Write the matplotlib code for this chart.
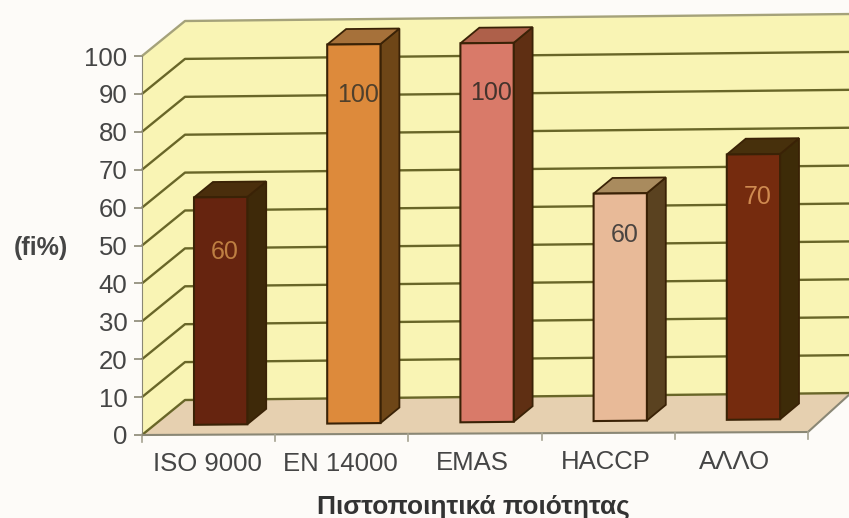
import numpy as np
import matplotlib
matplotlib.use("Agg")
import matplotlib.pyplot as plt
from matplotlib.patches import Polygon

categories = ["ISO 9000", "EN 14000", "EMAS", "HACCP", "ΑΛΛΟ"]
values = [60, 100, 100, 60, 70]
y_ticks = list(range(0, 101, 10))

front_colors = ["#66240F", "#DD8A3B", "#D97A69", "#E8BA98", "#752B0E"]
side_colors = ["#3E2909", "#6E4617", "#5F2F13", "#5A4220", "#3D2B08"]
top_colors = ["#4A2E0C", "#A6713A", "#AE604A", "#A98B5E", "#47300C"]
label_colors = ["#BE7F42", "#4F402C", "#43332C", "#4A4440", "#CF8A50"]
label_drop = [14.5, 13.3, 13.3, 11, 11.3]

W, H = 849, 518
plt.rcParams["font.family"] = ["Liberation Sans", "DejaVu Sans"]

fig = plt.figure(figsize=(W / 100, H / 100), dpi=100, facecolor="#FDFBF8")
LEFT, RIGHT, TOP, BOTTOM = 142, 808, 56, 435
ax = fig.add_axes([LEFT / W, 1 - BOTTOM / H, (RIGHT - LEFT) / W, (BOTTOM - TOP) / H])
ax.set_xlim(-0.5, 4.5)
ax.set_ylim(0, 100)
ax.patch.set_alpha(0)

px_x = (RIGHT - LEFT) / 5
px_y = (BOTTOM - TOP) / 100
DEPTH_X = 43 / px_x
DEPTH_Y = 35 / px_y


def project(x, v, d=0.0):
    """Map category, value and depth (0 front, 1 back wall) to axes data units."""
    rise = np.interp(d, [0, 0.28, 1], [0.0045, 0.0094, 0.0105])
    tilt = rise * (x + 0.5) * px_x / px_y
    return x + d * DEPTH_X, v + d * DEPTH_Y + tilt


def face(points, **kw):
    verts = [project(*p) for p in points]
    ax.add_patch(Polygon(verts, closed=True, clip_on=False, **kw))


WALL = "#F9F4B4"
GRID = "#696628"
x0, x1 = -0.5, 4.5

# Chart box: floor, back wall and left wall
face([(x0, 0, 0), (x1, 0, 0), (x1, 0, 1), (x0, 0, 1)], fc="#E6D0B0", ec="none", zorder=1)
face([(x0, 0, 1), (x1, 0, 1), (x1, 100, 1), (x0, 100, 1)], fc=WALL, ec="none", zorder=1)
face([(x0, 0, 0), (x0, 0, 1), (x0, 100, 1), (x0, 100, 0)], fc=WALL, ec="none", zorder=1)

for t in y_ticks:
    col = "#A5A27A" if t == 100 else GRID
    xs, ys = zip(*[project(x0, t, 0), project(x0, t, 1), project(x1, t, 1)])
    ax.plot(xs, ys, color=col, lw=1.7, clip_on=False, zorder=2, solid_capstyle="butt")

# Front edge of the floor and its right-hand side
xs, ys = zip(*[project(x0, 0, 0), project(x1, 0, 0), project(x1, 0, 1)])
ax.plot(xs, ys, color="#8A8775", lw=1.5, clip_on=False, zorder=3)

# Category separator ticks along the front edge
for b in np.arange(x0, x1 + 0.01, 1.0):
    xs, ys = zip(*[project(b, 0, 0), project(b, -1.8, 0)])
    ax.plot(xs, ys, color="#A5A290", lw=1.2, clip_on=False, zorder=3)

# Oblique bars
D0, D1 = 0.28, 0.72
HALF = 0.2
EDGE = "#3A2206"
for i, v in enumerate(values):
    l, r = i - HALF, i + HALF
    face([(r, 0, D0), (r, 0, D1), (r, v, D1), (r, v, D0)],
         fc=side_colors[i], ec=EDGE, lw=1.3, zorder=4)
    face([(l, v, D0), (r, v, D0), (r, v, D1), (l, v, D1)],
         fc=top_colors[i], ec=EDGE, lw=1.3, zorder=4)
    face([(l, 0, D0), (r, 0, D0), (r, v, D0), (l, v, D0)],
         fc=front_colors[i], ec=EDGE, lw=1.5, zorder=5)
    lx, ly = project(i + 0.03, v - label_drop[i], D0)
    ax.text(lx, ly, str(v), ha="center", va="center", fontsize=18,
            color=label_colors[i], zorder=6)

# Axes furniture
for s in ["top", "right", "bottom"]:
    ax.spines[s].set_visible(False)
ax.spines["left"].set_color("#8A8775")
ax.spines["left"].set_zorder(3)

ax.set_yticks(y_ticks)
ax.tick_params(axis="y", length=6, width=1.2, color="#8A8775", pad=4.5,
               labelsize=18.5, labelcolor="#454545")

label_nudge = [-0.01, -0.01, -0.02, -0.02, -0.05]
ax.set_xticks(np.arange(5) + np.array(label_nudge))
ax.set_xticklabels(categories)
ax.tick_params(axis="x", length=0, labelsize=18.5, labelcolor="#454545")
for tick, pad in zip(ax.xaxis.get_major_ticks(), [12, 12, 11.5, 11, 10.5]):
    tick.set_pad(pad)

ax.text(41 / W, 1 - 248 / H, "(fi%)", transform=fig.transFigure, ha="center", va="center",
        fontsize=18, fontweight="bold", color="#454545")
ax.text(473 / W, 1 - 507 / H, "Πιστοποιητικά ποιότητας", transform=fig.transFigure,
        ha="center", va="center", fontsize=19, fontweight="bold", color="#333333")

fig.savefig("out.png", dpi=100, facecolor=fig.get_facecolor())
